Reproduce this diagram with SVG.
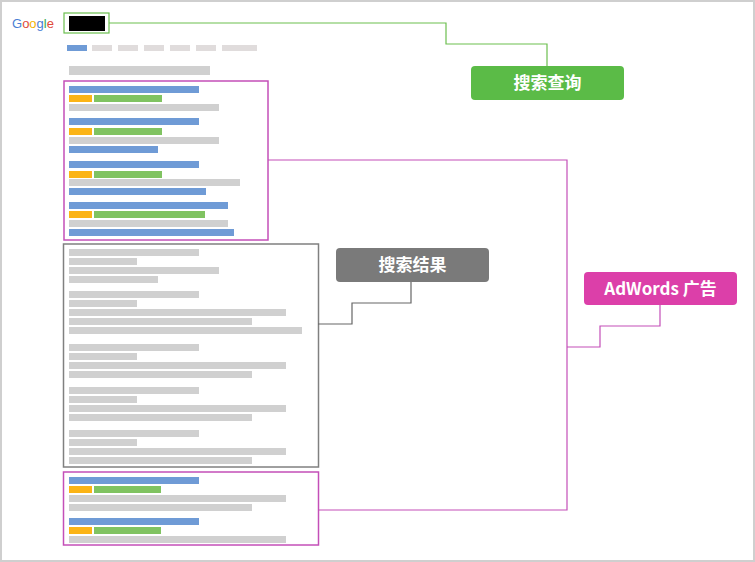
<svg xmlns="http://www.w3.org/2000/svg" width="755" height="562" viewBox="0 0 755 562">
<style>
.b{fill:#6f9bd6}.o{fill:#fbb416}.g{fill:#80c361}.r{fill:#d0d0d0}.n{fill:#e0dcdc}
.lbl{font-family:"Noto Sans CJK SC","Noto Sans",sans-serif;font-weight:bold;font-size:17px;fill:#fff;text-anchor:middle}
.c{fill:none;stroke-width:1.2}
</style>
<rect x="1" y="1" width="753" height="560" fill="#fff" stroke="#cfcfcf" stroke-width="2"/>
<g id="page">
<text x="12" y="28" font-family="'Liberation Sans',sans-serif" font-size="13"><tspan fill="#4a7fd4">G</tspan><tspan fill="#e04b3c">o</tspan><tspan fill="#f4b400">o</tspan><tspan fill="#4a7fd4">g</tspan><tspan fill="#35a853">l</tspan><tspan fill="#e04b3c">e</tspan></text>
<rect x="64" y="13" width="45" height="20" fill="#fff" stroke="#6cbf4f" stroke-width="1.2"/>
<rect x="69" y="16" width="36" height="15" fill="#000"/>
<rect class="b" x="67" y="45" width="20" height="6"/>
<rect class="n" x="92" y="45" width="20" height="6"/><rect class="n" x="118" y="45" width="20" height="6"/><rect class="n" x="144" y="45" width="20" height="6"/><rect class="n" x="170" y="45" width="20" height="6"/><rect class="n" x="196" y="45" width="20" height="6"/><rect class="n" x="222" y="45" width="35" height="6"/>
<rect class="r" x="69" y="66" width="141" height="9"/>
</g>
<g id="ads-top">
<rect x="64" y="81" width="204" height="159" fill="none" stroke="#c44fb8" stroke-width="1.5"/>
<rect class="b" x="69" y="86" width="130" height="7"/><rect class="o" x="69" y="95" width="23" height="7"/><rect class="g" x="94" y="95" width="68" height="7"/><rect class="r" x="69" y="104" width="150" height="7"/>
<rect class="b" x="69" y="118" width="130" height="7"/><rect class="o" x="69" y="128" width="23" height="7"/><rect class="g" x="94" y="128" width="68" height="7"/><rect class="r" x="69" y="137" width="150" height="7"/><rect class="b" x="69" y="146" width="89" height="7"/>
<rect class="b" x="69" y="161" width="130" height="7"/><rect class="o" x="69" y="171" width="23" height="7"/><rect class="g" x="94" y="171" width="68" height="7"/><rect class="r" x="69" y="179" width="171" height="7"/><rect class="b" x="69" y="188" width="137" height="7"/>
<rect class="b" x="69" y="202" width="159" height="7"/><rect class="o" x="69" y="211" width="23" height="7"/><rect class="g" x="94" y="211" width="111" height="7"/><rect class="r" x="69" y="220" width="159" height="7"/><rect class="b" x="69" y="229" width="165" height="7"/>
</g>
<g id="results">
<rect x="63.5" y="244" width="255" height="223" fill="none" stroke="#808080" stroke-width="1.5"/>
<rect class="r" x="69" y="249" width="130" height="7"/><rect class="r" x="69" y="258" width="68" height="7"/><rect class="r" x="69" y="267" width="150" height="7"/><rect class="r" x="69" y="276" width="89" height="7"/>
<rect class="r" x="69" y="291" width="130" height="7"/><rect class="r" x="69" y="300" width="68" height="7"/><rect class="r" x="69" y="309" width="217" height="7"/><rect class="r" x="69" y="318" width="183" height="7"/><rect class="r" x="69" y="327" width="233" height="7"/>
<rect class="r" x="69" y="344" width="130" height="7"/><rect class="r" x="69" y="353" width="68" height="7"/><rect class="r" x="69" y="362" width="217" height="7"/><rect class="r" x="69" y="371" width="183" height="7"/>
<rect class="r" x="69" y="387" width="130" height="7"/><rect class="r" x="69" y="396" width="68" height="7"/><rect class="r" x="69" y="405" width="217" height="7"/><rect class="r" x="69" y="414" width="183" height="7"/>
<rect class="r" x="69" y="430" width="130" height="7"/><rect class="r" x="69" y="439" width="68" height="7"/><rect class="r" x="69" y="448" width="217" height="7"/><rect class="r" x="69" y="457" width="183" height="7"/>
</g>
<g id="ads-bottom">
<rect x="63.5" y="472" width="255" height="73" fill="none" stroke="#c44fb8" stroke-width="1.5"/>
<rect class="b" x="69" y="477" width="130" height="7"/><rect class="o" x="69" y="486" width="23" height="7"/><rect class="g" x="94" y="486" width="67" height="7"/><rect class="r" x="69" y="495" width="217" height="7"/><rect class="r" x="69" y="504" width="183" height="7"/>
<rect class="b" x="69" y="518" width="130" height="7"/><rect class="o" x="69" y="527" width="23" height="7"/><rect class="g" x="94" y="527" width="67" height="7"/><rect class="r" x="69" y="536" width="217" height="7"/>
</g>
<g id="connectors">
<polyline class="c" stroke="#6cbf4f" points="109,23 446,23 446,44 547,44 547,66"/>
<polyline class="c" stroke="#c44fb8" points="268,160 567,160 567,510 318,510"/>
<polyline class="c" stroke="#c44fb8" points="567,347 600,347 600,326 660,326 660,305"/>
<polyline class="c" stroke="#666" points="318,324 352,324 352,303 411,303 411,282"/>
</g>
<g id="label-query"><rect x="471" y="66" width="153" height="34" rx="4" fill="#5bbb47"/><text class="lbl" x="547.5" y="89">搜索查询</text></g>
<g id="label-results"><rect x="336" y="248" width="153" height="34" rx="4" fill="#7a7a7a"/><text class="lbl" x="412.5" y="271">搜索结果</text></g>
<g id="label-ads"><rect x="584" y="272" width="153" height="33" rx="4" fill="#dc3fa9"/><text class="lbl" x="660.5" y="295">AdWords 广告</text></g>
</svg>
